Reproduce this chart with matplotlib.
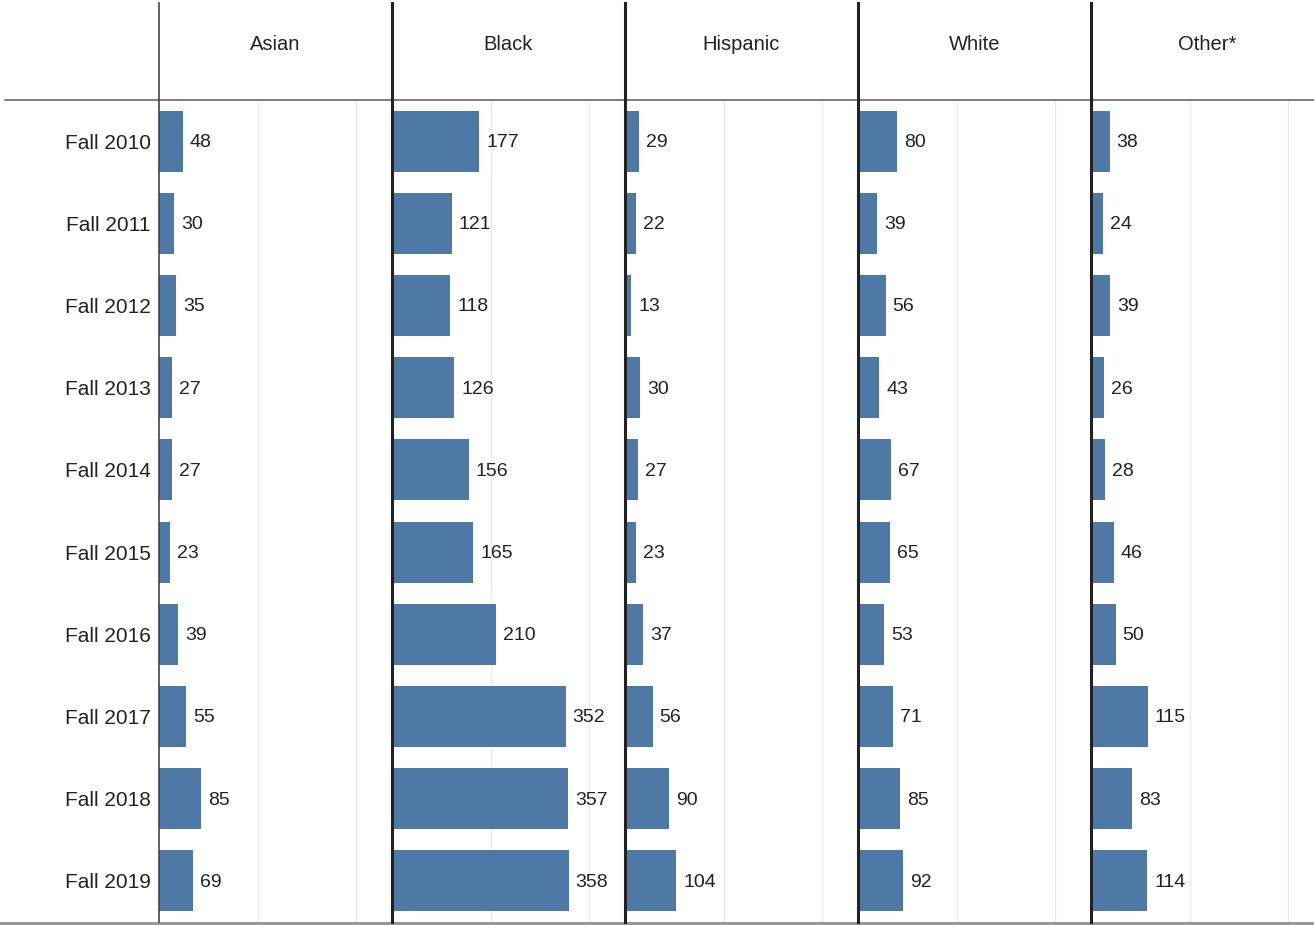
import matplotlib
matplotlib.use("Agg")
from matplotlib import pyplot as plt
from matplotlib.lines import Line2D

plt.rcParams['font.family'] = ['Liberation Sans', 'DejaVu Sans']

# data
terms = ["Fall 2010", "Fall 2011", "Fall 2012", "Fall 2013", "Fall 2014",
         "Fall 2015", "Fall 2016", "Fall 2017", "Fall 2018", "Fall 2019"]
groups = ["Asian", "Black", "Hispanic", "White", "Other*"]
asian = [48, 30, 35, 27, 27, 23, 39, 55, 85, 69]
black = [177, 121, 118, 126, 156, 165, 210, 352, 357, 358]
hispanic = [29, 22, 13, 30, 27, 23, 37, 56, 90, 104]
white = [80, 39, 56, 43, 67, 65, 53, 71, 85, 92]
other = [38, 24, 39, 26, 28, 46, 50, 115, 83, 114]
series = [asian, black, hispanic, white, other]

W, H = 1314, 925
bar_color = '#4e79a7'
text_color = '#222222'

fig = plt.figure(figsize=(W / 100, H / 100), dpi=100)

# pixel layout of the panels (last one is cut off by the image edge)
left_px = [159, 392, 625, 858, 1091]
width_px = [233, 233, 233, 233, 223]
panel_full = 233
top_px, bottom_px = 100, 922
px_per_unit = 0.4935


def fx(px):
    return px / W


def fy(px):
    return 1 - px / H


for i, (name, vals) in enumerate(zip(groups, series)):
    ax = fig.add_axes([fx(left_px[i]), fy(bottom_px),
                       fx(width_px[i]), (bottom_px - top_px) / H])
    ypos = list(range(len(terms)))
    ax.barh(ypos, vals, height=0.74, color=bar_color, zorder=2)
    for y, v in zip(ypos, vals):
        ax.annotate(str(v), (v, y), xytext=(5, -1), textcoords='offset points',
                    va='center', ha='left', fontsize=14, color=text_color)
    ax.set_xlim(0, width_px[i] / px_per_unit)
    ax.set_ylim(len(terms) - 0.5, -0.5)
    ax.set_xticks([200, 400])
    ax.grid(axis='x', color='#ebebeb', linewidth=1, zorder=0)
    ax.tick_params(axis='x', length=0, labelbottom=False)
    for s in ax.spines.values():
        s.set_visible(False)
    if i == 0:
        ax.set_yticks(ypos)
        ax.set_yticklabels(terms, fontsize=15, color=text_color)
        ax.tick_params(axis='y', length=0, pad=6)
    else:
        ax.set_yticks([])
    # column header, centred on the full panel width
    ax.text(panel_full / 2 / width_px[i], 1 + 55 / (bottom_px - top_px), name,
            transform=ax.transAxes, ha='center', va='center',
            fontsize=14.5, color=text_color)

# separators
for i, x in enumerate(left_px):
    lw, col = (1.2, '#444444') if i == 0 else (2.2, '#222222')
    fig.add_artist(Line2D([fx(x), fx(x)], [fy(3), fy(bottom_px)],
                          color=col, linewidth=lw, zorder=5))
fig.add_artist(Line2D([fx(5), 1], [fy(top_px), fy(top_px)],
                      color='#666666', linewidth=1.2, zorder=4))
fig.add_artist(Line2D([0, 1], [fy(923), fy(923)],
                      color='#999999', linewidth=2.2, zorder=4))

fig.savefig("out.png", dpi=100)
